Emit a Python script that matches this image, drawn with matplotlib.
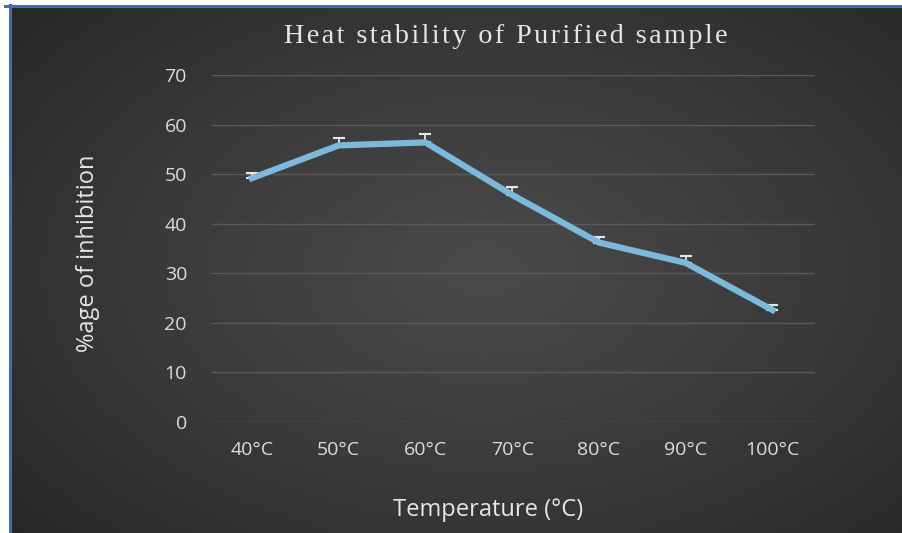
import matplotlib
matplotlib.use("Agg")
import matplotlib.pyplot as plt
from matplotlib.colors import LinearSegmentedColormap
import numpy as np

# data
temps = ["40°C", "50°C", "60°C", "70°C", "80°C", "90°C", "100°C"]
inhibition = [49.2, 55.8, 56.4, 45.8, 36.2, 32.1, 22.6]
err_up = [1.0, 1.4, 1.6, 1.6, 1.2, 1.3, 1.0]
title = "Heat stability of Purified sample"

fig = plt.figure(figsize=(9.03, 5.33), dpi=100)
fig.patch.set_facecolor("white")

# dark radial background with blue frame on top/left
bg = fig.add_axes([12/903, 0, 1 - 12/903, 1 - 7/533])
yy, xx = np.mgrid[0:1:300j, 0:1:500j]
r = np.sqrt(((xx - 0.53) / 0.75) ** 2 + ((yy - 0.5) / 0.8) ** 2)
grad = LinearSegmentedColormap.from_list("g", ["#4b4b4b", "#3a3a3a", "#252525"])
bg.imshow(np.clip(r, 0, 1), cmap=grad, vmin=0, vmax=1, aspect="auto",
          extent=[0, 1, 0, 1], origin="lower")
bg.set_axis_off()
fig.add_artist(plt.Line2D([10/903, 10/903], [0, 1 - 5/533], color="#3a6fb5", lw=2.2,
                          transform=fig.transFigure))
fig.add_artist(plt.Line2D([5/903, 1], [1 - 6/533, 1 - 6/533], color="#3a6fb5", lw=2.2,
                          transform=fig.transFigure))

ax = fig.add_axes([212/903, (533-422)/533, (815-212)/903, (422-75)/533])
ax.set_facecolor("none")
x = np.arange(len(temps))
ax.errorbar(x, inhibition, yerr=[np.zeros(len(err_up)), err_up], fmt="none",
            ecolor="#e8e8e8", elinewidth=1.3, capsize=4, capthick=1.5, zorder=2)
ax.plot(x, inhibition, color="#7cb9da", lw=4.5, solid_joinstyle="round", zorder=3)

ax.set_xlim(-0.46, 6.49)
ax.set_ylim(0, 70)
ax.set_yticks(range(0, 71, 10))
ax.set_xticks(x)
ax.set_xticklabels(temps)
ax.grid(axis="y", color="#5a5a5a", lw=1)
ax.set_axisbelow(True)
for s in ax.spines.values():
    s.set_visible(False)
ax.tick_params(length=0, colors="#dcdcdc", labelsize=14)
ax.tick_params(axis="y", pad=18)
ax.tick_params(axis="x", pad=14)
for lab in ax.get_xticklabels() + ax.get_yticklabels():
    lab.set_fontfamily("Open Sans")

# spaced-out title (hair spaces between letters)
spaced = "\u200a".join(title)
fig.text(0.56, 0.932, spaced, ha="center", va="center",
         color="#e6e6e6", fontsize=20.3, family=["Liberation Serif", "DejaVu Serif"])
fig.text(0.098, 0.525, "%age of inhibition", rotation=90, ha="center", va="center",
         color="#e6e6e6", fontsize=17, family="Open Sans")
fig.text(0.54, 0.043, "Temperature (°C)", ha="center", va="center",
         color="#e6e6e6", fontsize=17, family="Open Sans")

fig.savefig("out.png", dpi=100)
